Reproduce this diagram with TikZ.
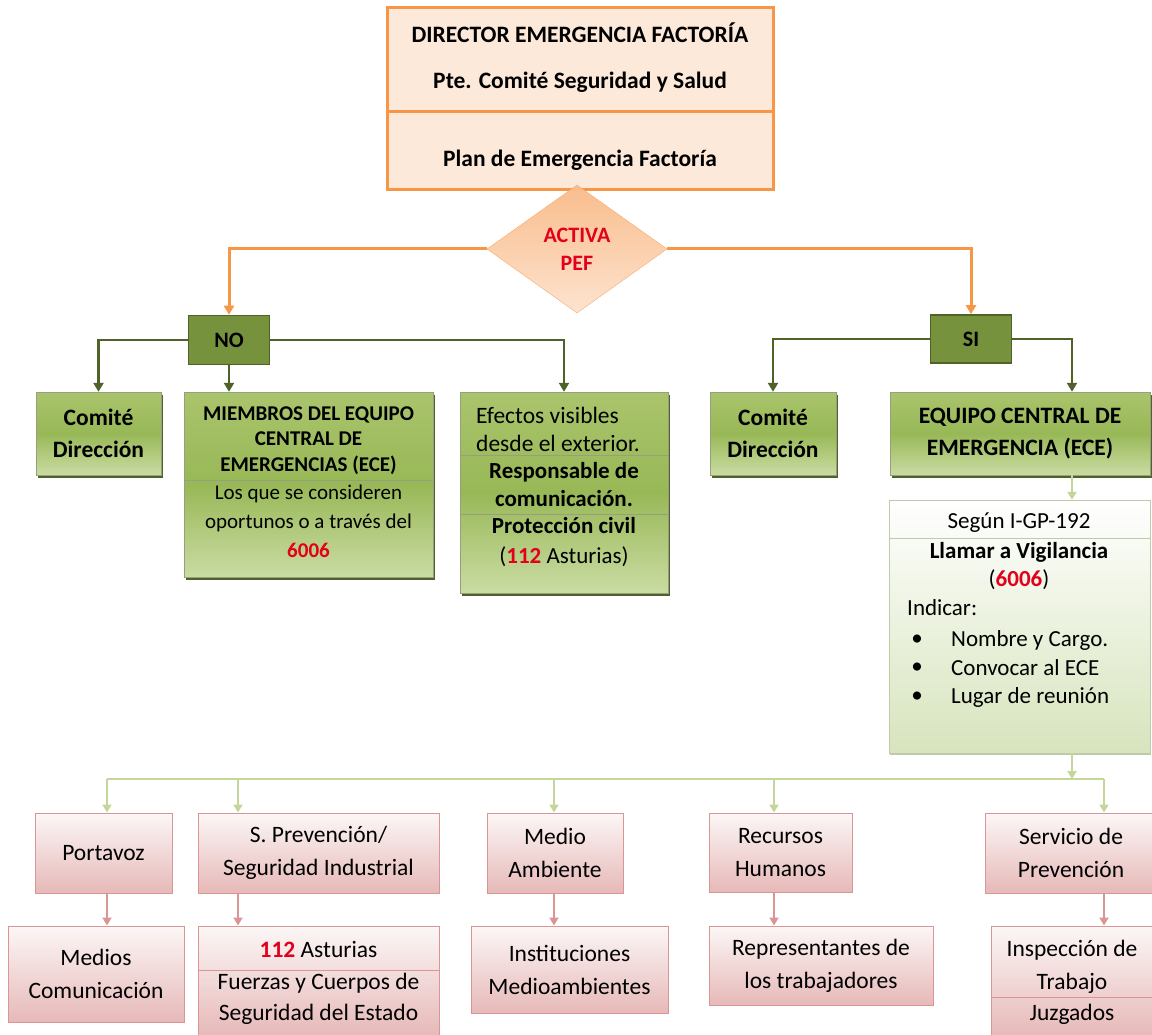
\documentclass[tikz,border=0pt]{standalone}
\usepackage{fontspec}
\setmainfont{Carlito}
\usetikzlibrary{shapes.geometric,arrows.meta,shadows}

\definecolor{peachline}{HTML}{F79646}
\definecolor{peachfill}{HTML}{FDE9D9}
\definecolor{peachtop}{HTML}{F9BD8C}
\definecolor{peachbot}{HTML}{FDE3CF}
\definecolor{oliveline}{HTML}{4F6228}
\definecolor{olivefill}{HTML}{76923C}
\definecolor{greentop}{HTML}{AAC46C}
\definecolor{greenmid}{HTML}{98B857}
\definecolor{greenbot}{HTML}{CADCA3}
\definecolor{paleline}{HTML}{C3D69B}
\definecolor{palefill}{HTML}{D7E4BD}
\definecolor{paleedge}{HTML}{BFCBA8}
\definecolor{rosefill}{HTML}{E6B9B8}
\definecolor{roseline}{HTML}{D99694}
\definecolor{numred}{HTML}{E3001B}

\tikzset{
  txt/.style={font=\fontsize{23}{28}\selectfont, align=center, inner sep=0pt},
  toptxt/.style={font=\fontsize{23.5}{28}\selectfont\bfseries, inner sep=0pt},
  topbox/.style={draw=peachline, line width=3pt, fill=peachfill, inner sep=0pt},
  decision/.style={diamond, draw=peachline!80, top color=peachtop, bottom color=peachbot,
    inner sep=0pt, font=\fontsize{22}{28}\selectfont\bfseries, text=numred, align=center},
  answer/.style={draw=oliveline, line width=1.5pt, fill=olivefill,
    font=\fontsize{22}{28}\selectfont\bfseries, inner sep=0pt},
  greenbox/.style={draw=oliveline!60, top color=greentop, bottom color=greenbot, middle color=greenmid,
    drop shadow={shadow xshift=1.5pt, shadow yshift=-2.5pt, fill=oliveline, opacity=1},
    font=\fontsize{23.5}{32}\selectfont\bfseries, align=center, inner sep=0pt},
  notebox/.style={draw=paleedge, top color=white, bottom color=palefill,
    drop shadow={shadow xshift=1pt, shadow yshift=-1.5pt, fill=paleedge, opacity=1}, inner sep=0pt},
  rosebox/.style={draw=roseline, line width=1pt, top color=rosefill!12, bottom color=rosefill,
    font=\fontsize{23.5}{33}\selectfont, align=center, inner sep=0pt},
  orangearrow/.style={draw=peachline, line width=3pt, -{Triangle[length=9pt,width=10pt]}},
  olivearrow/.style={draw=oliveline, line width=2.5pt, -{Triangle[length=9pt,width=10pt]}},
  palearrow/.style={draw=paleline, line width=2pt, -{Triangle[length=8pt,width=9pt]}},
  palelink/.style={draw=paleline, line width=2pt},
  rosearrow/.style={draw=roseline, line width=2pt, -{Triangle[length=8pt,width=9pt]}}
}

\begin{document}
\begin{tikzpicture}[x=1pt, y=-1pt]
  \useasboundingbox (0,0) rectangle (1152,1035);

  % director
  \node[topbox, minimum width=386, minimum height=182] (director) at (580,99) {};
  \draw[peachline, line width=3pt] ([yshift=-13pt]director.west) -- ([yshift=-13pt]director.east);
  \node[toptxt] (directorA) at (580,33) {DIRECTOR EMERGENCIA FACTORÍA};
  \node[toptxt] (directorB) at (580,82) {Pte. Comité Seguridad y Salud};
  \node[toptxt] (directorC) at (580,160) {Plan de Emergencia Factoría};

  \node[decision, minimum width=180, minimum height=128] (activa) at (577,249) {ACTIVA\\PEF};

  \node[answer, minimum width=81, minimum height=49] (no) at (229,340) {NO};
  \node[answer, minimum width=81, minimum height=48] (si) at (971,339) {SI};

  \draw[orangearrow] (activa.west) -| (no.north);
  \draw[orangearrow] (activa.east) -| (si.north);

  % rama NO
  \node[greenbox, minimum width=125, minimum height=83] (comiteNo) at (98.5,433.5) {Comité\\Dirección};

  \node[greenbox, minimum width=249, minimum height=185] (miembros) at (308.5,484.5) {};
  \draw[oliveline!60] ([yshift=4.5pt]miembros.west) -- ([yshift=4.5pt]miembros.east);
  \node[txt, font=\fontsize{21}{25.5}\selectfont\bfseries] (miembrosA) at (308.5,440.5)
    {MIEMBROS DEL EQUIPO\\CENTRAL DE\\EMERGENCIAS (ECE)};
  \node[txt, font=\fontsize{21}{29}\selectfont] (miembrosB) at (308.5,521)
    {Los que se consideren\\oportunos o a través del\\\textcolor{numred}{\textbf{6006}}};

  \node[greenbox, minimum width=208, minimum height=201] (efectos) at (564,492.5) {};
  \draw[oliveline!60] ([yshift=37.5pt]efectos.west) -- ([yshift=37.5pt]efectos.east);
  \draw[oliveline!60] ([yshift=-21.5pt]efectos.west) -- ([yshift=-21.5pt]efectos.east);
  \node[txt, font=\fontsize{23.5}{28}\selectfont, align=left, anchor=west] (efectosA) at (476,429)
    {Efectos visibles\\desde el exterior.};
  \node[txt, font=\fontsize{23}{28}\selectfont\bfseries] (efectosB) at (564,485) {Responsable de\\comunicación.};
  \node[txt, font=\fontsize{23}{30}\selectfont] (efectosC) at (564,542)
    {\textbf{Protección civil}\\(\textcolor{numred}{\textbf{112}} Asturias)};

  \draw[olivearrow] (no.west) -| (comiteNo.north);
  \draw[olivearrow] (no.south) -- (no.south |- miembros.north);
  \draw[olivearrow] (no.east) -| (efectos.north);

  % rama SI
  \node[greenbox, minimum width=126, minimum height=83] (comiteSi) at (773,433.5) {Comité\\Dirección};
  \node[greenbox, minimum width=260, minimum height=83] (ece) at (1020,433.5) {EQUIPO CENTRAL DE\\EMERGENCIA (ECE)};

  \coordinate (eceDrop) at (1072,779);
  \draw[olivearrow] (si.west) -| (comiteSi.north);
  \draw[olivearrow] (si.east) -| (eceDrop |- ece.north);

  \node[notebox, minimum width=261, minimum height=253] (segun) at (1019.5,626.5) {};
  \draw[paleedge] ([yshift=88.5pt]segun.west) -- ([yshift=88.5pt]segun.east);
  \node[txt] (segunA) at (1019,523) {Según I-GP-192};
  \node[txt] (segunB) at (1019,566) {\textbf{Llamar a Vigilancia}\\(\textcolor{numred}{\textbf{6006}})};
  \node[txt, anchor=west] (indicar) at (907,608) {Indicar:};
  \node[txt] (dotA) at (917,640) {•};
  \node[txt, anchor=west] (itemA) at (951,640) {Nombre y Cargo.};
  \node[txt] (dotB) at (917,668) {•};
  \node[txt, anchor=west] (itemB) at (951,668) {Convocar al ECE};
  \node[txt] (dotC) at (917,697) {•};
  \node[txt, anchor=west] (itemC) at (951,697) {Lugar de reunión};

  \draw[palearrow] (eceDrop |- ece.south) -- (eceDrop |- segun.north);
  \draw[palearrow] (eceDrop |- segun.south) -- (eceDrop);

  % areas
  \node[rosebox, minimum width=137, minimum height=80] (portavoz) at (103.5,853) {Portavoz};
  \node[rosebox, minimum width=241, minimum height=80] (sprev) at (318.5,853) {S. Prevención/\\Seguridad Industrial};
  \node[rosebox, minimum width=136, minimum height=80] (medio) at (555,853) {Medio\\Ambiente};
  \node[rosebox, minimum width=143, minimum height=79] (recursos) at (780.5,852.5) {Recursos\\Humanos};
  \node[rosebox, minimum width=172, minimum height=80] (servicio) at (1071,853) {Servicio de\\Prevención};

  \coordinate (busA) at (107,779);
  \coordinate (busB) at (238,779);
  \coordinate (busC) at (554,779);
  \coordinate (busD) at (774,779);
  \coordinate (busE) at (1104,779);
  \draw[palelink] (busA) -- (busE);
  \draw[palearrow] (busA) -- (busA |- portavoz.north);
  \draw[palearrow] (busB) -- (busB |- sprev.north);
  \draw[palearrow] (busC) -- (busC |- medio.north);
  \draw[palearrow] (busD) -- (busD |- recursos.north);
  \draw[palearrow] (busE) -- (busE |- servicio.north);

  % contactos externos
  \node[rosebox, minimum width=176, minimum height=96] (medios) at (96,974) {Medios\\Comunicación};
  \node[rosebox, minimum width=241, minimum height=110] (asturias) at (318.5,981) {};
  \draw[roseline, line width=1pt] ([yshift=11pt]asturias.west) -- ([yshift=11pt]asturias.east);
  \node[txt, font=\fontsize{23.5}{28}\selectfont] (asturiasA) at (318.5,949) {\textcolor{numred}{\textbf{112}} Asturias};
  \node[txt, font=\fontsize{23.5}{31}\selectfont] (asturiasB) at (318.5,998.5) {Fuerzas y Cuerpos de\\Seguridad del Estado};
  \node[rosebox, minimum width=197, minimum height=87] (instituciones) at (569.5,969.5) {Instituciones\\Medioambientes};
  \node[rosebox, minimum width=224, minimum height=79] (representantes) at (821,965.5) {Representantes de\\los trabajadores};
  \node[rosebox, minimum width=164, minimum height=110] (inspeccion) at (1073,981) {};
  \draw[roseline, line width=1pt] ([yshift=-16pt]inspeccion.west) -- ([yshift=-16pt]inspeccion.east);
  \node[txt, font=\fontsize{23.5}{33}\selectfont] (inspeccionA) at (1072,966.5) {Inspección de\\Trabajo};
  \node[txt, font=\fontsize{23.5}{28}\selectfont] (inspeccionB) at (1072,1014) {Juzgados};

  \draw[rosearrow] (busA |- portavoz.south) -- (busA |- medios.north);
  \draw[rosearrow] (busB |- sprev.south) -- (busB |- asturias.north);
  \draw[rosearrow] (busC |- medio.south) -- (busC |- instituciones.north);
  \draw[rosearrow] (busD |- recursos.south) -- (busD |- representantes.north);
  \draw[rosearrow] (busE |- servicio.south) -- (busE |- inspeccion.north);

\end{tikzpicture}
\end{document}
